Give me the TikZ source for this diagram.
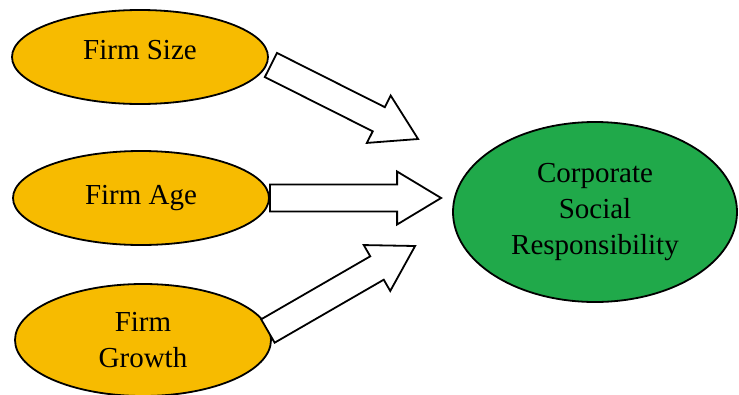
\documentclass[tikz,border=0pt]{standalone}
\usepackage{fontspec}
\setmainfont{Liberation Serif}
\usetikzlibrary{calc,shapes.geometric}

\definecolor{firmorange}{HTML}{F7BB00}
\definecolor{csrgreen}{HTML}{20A94A}

\tikzset{
  factor/.style={ellipse, draw=black, line width=1.8pt, fill=firmorange,
    minimum width=256pt, minimum height=94pt, inner sep=0pt, align=center,
    font=\fontsize{29}{36}\selectfont},
  outcome/.style={factor, fill=csrgreen, minimum width=284pt, minimum height=180pt},
  blockarrow/.style={draw=black, line width=1.8pt, fill=white, line join=miter},
}

\begin{document}
\begin{tikzpicture}[x=1pt, y=-1pt]
\useasboundingbox (0,0) rectangle (739,394);

% -------------------------------------------------------
% 1. Firm factors (left)
% -------------------------------------------------------
\node[factor, text depth=14pt] (size) at (140,57) {Firm Size};
\node[factor] (age) at (141,198) {Firm Age};
\node[factor, minimum height=112pt] (growth) at (143,340) {Firm\\Growth};

% -------------------------------------------------------
% 2. Outcome (right)
% -------------------------------------------------------
\node[outcome] (csr) at (595,212) {Corporate\\Social\\Responsibility};

% -------------------------------------------------------
% 3. Block arrows
% -------------------------------------------------------
\coordinate (size-tail) at ($(size.east)+(2,8)$);
\coordinate (age-tail) at (age.east);
\coordinate (growth-tail) at ($(growth.east)+(-4,-9)$);
\coordinate (size-tip) at ($(csr.west)+(-34,-73)$);
\coordinate (age-tip) at ($(csr.west)+(-11,-14)$);
\coordinate (growth-tip) at ($(csr.west)+(-37,34)$);

\def\shaftw{13.5pt}
\def\headw{26.5pt}
\def\headlen{44pt}

\foreach \from/\to in {size-tail/size-tip, age-tail/age-tip, growth-tail/growth-tip} {
  \draw[blockarrow] ($(\from)!\shaftw!90:(\to)$)
    -- ($($(\to)!\headlen!(\from)$)!\shaftw!-90:(\from)$)
    -- ($($(\to)!\headlen!(\from)$)!\headw!-90:(\from)$)
    -- (\to)
    -- ($($(\to)!\headlen!(\from)$)!\headw!90:(\from)$)
    -- ($($(\to)!\headlen!(\from)$)!\shaftw!90:(\from)$)
    -- ($(\from)!\shaftw!-90:(\to)$) -- cycle;
}

\end{tikzpicture}
\end{document}
